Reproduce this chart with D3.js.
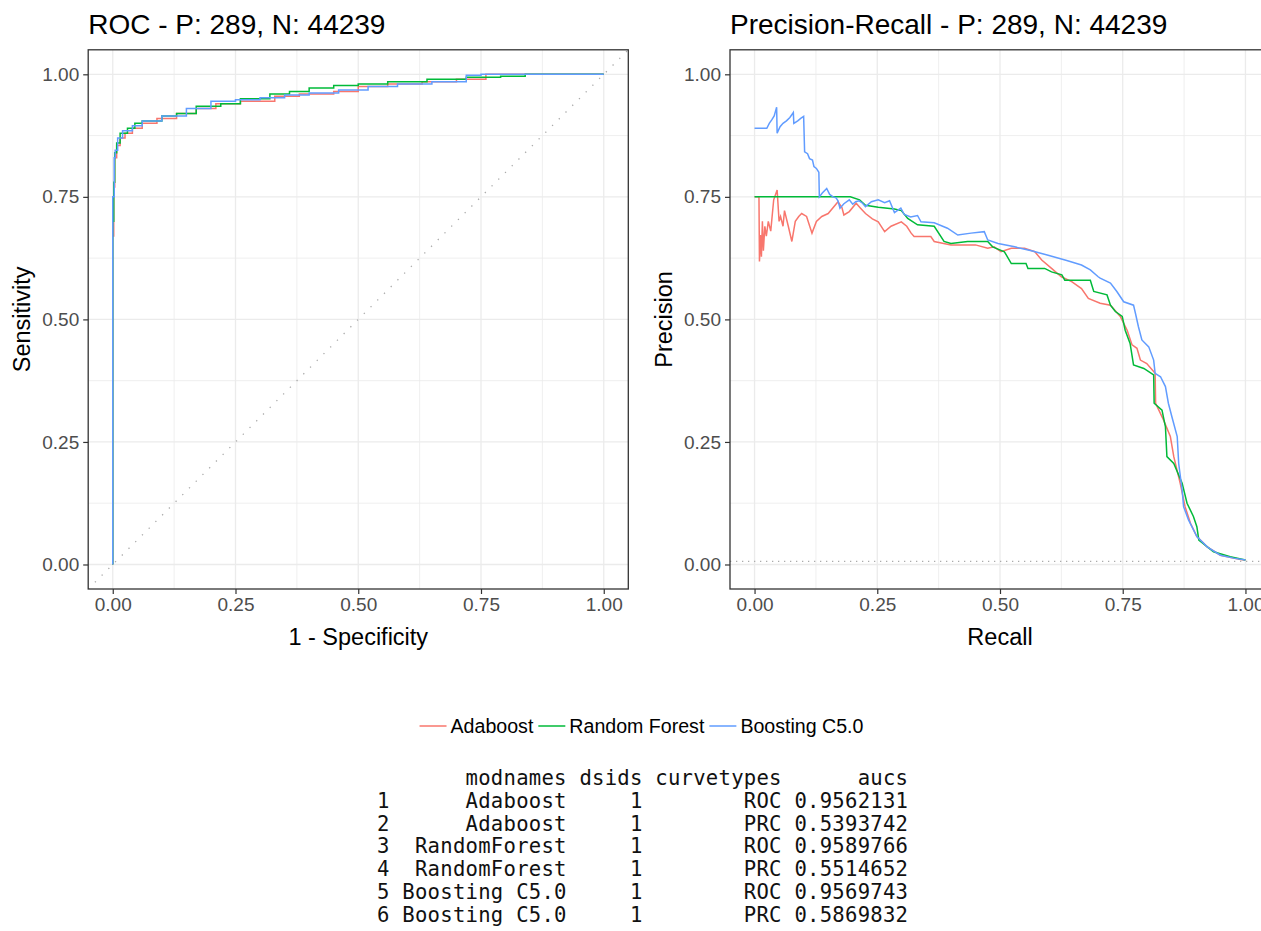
<!DOCTYPE html>
<html>
<head>
<meta charset="utf-8">
<script src="https://cdn.jsdelivr.net/npm/d3@7"></script>
<style>
    body { margin: 0; background: #fff; }
    svg text { font-family: "Liberation Sans", Arial, sans-serif; }
    .table-text { font-family: "DejaVu Sans Mono", monospace; white-space: pre; }
</style>
</head>
<body>
<div id="chart"></div>
<script>

// counts shown in the titles
var posCount = 289;
var negCount = 44239;

var modelNames = ["Adaboost", "Random Forest", "Boosting C5.0"];
var modelColors = ["#F8766D", "#00BA38", "#619CFF"];

var tickValues = [0, 0.25, 0.5, 0.75, 1];
var minorTicks = [0.125, 0.375, 0.625, 0.875];

// ROC curves: [1 - specificity, sensitivity]
var rocAdaboost = [[0,0],[0.002,0.67],[0.004,0.77],[0.008,0.83],[0.015,0.855],[0.025,0.87],[0.04,0.88],[0.06,0.89],
    [0.09,0.9],[0.13,0.91],[0.17,0.92],[0.21,0.93],[0.26,0.94],[0.33,0.945],[0.38,0.955],[0.45,0.96],[0.5,0.965],
    [0.56,0.975],[0.63,0.98],[0.7,0.985],[0.76,0.99],[0.83,1.0],[1,1]];
var rocForest = [[0,0],[0.002,0.7],[0.004,0.78],[0.008,0.84],[0.015,0.86],[0.03,0.88],[0.045,0.89],[0.06,0.9],
    [0.1,0.905],[0.13,0.915],[0.17,0.92],[0.22,0.935],[0.26,0.94],[0.32,0.95],[0.36,0.96],[0.4,0.965],[0.45,0.972],
    [0.5,0.977],[0.56,0.98],[0.64,0.985],[0.72,0.99],[0.79,0.994],[0.84,0.996],[0.877,1.0],[1,1]];
var rocC50 = [[0,0],[0.003,0.75],[0.005,0.83],[0.01,0.845],[0.02,0.87],[0.04,0.885],[0.06,0.895],[0.1,0.905],
    [0.15,0.915],[0.2,0.93],[0.25,0.945],[0.3,0.948],[0.35,0.952],[0.4,0.958],[0.46,0.962],[0.52,0.968],[0.58,0.975],
    [0.65,0.98],[0.72,0.985],[0.75,0.998],[0.806,1.0],[1,1]];

// Precision-recall curves: [recall, precision]
var prcAdaboost = [[0,0.75],[0.009,0.75],[0.010,0.618],[0.012,0.672],[0.014,0.628],[0.016,0.700],[0.018,0.640],
    [0.021,0.690],[0.024,0.670],[0.028,0.700],[0.033,0.680],[0.039,0.744],[0.046,0.764],[0.050,0.700],[0.053,0.710],
    [0.058,0.690],[0.061,0.722],[0.069,0.689],[0.076,0.659],[0.083,0.700],[0.090,0.710],[0.096,0.716],[0.106,0.710],
    [0.117,0.676],[0.126,0.700],[0.137,0.710],[0.150,0.716],[0.170,0.740],[0.178,0.728],[0.182,0.713],[0.193,0.720],
    [0.207,0.737],[0.215,0.728],[0.226,0.716],[0.240,0.705],[0.252,0.699],[0.265,0.679],[0.278,0.690],[0.299,0.699],
    [0.310,0.690],[0.319,0.676],[0.325,0.669],[0.359,0.669],[0.366,0.659],[0.400,0.652],[0.450,0.652],[0.475,0.645],
    [0.488,0.648],[0.502,0.638],[0.523,0.645],[0.550,0.645],[0.571,0.638],[0.585,0.621],[0.605,0.604],[0.625,0.587],
    [0.646,0.577],[0.666,0.563],[0.680,0.543],[0.704,0.533],[0.725,0.529],[0.745,0.506],[0.759,0.478],[0.769,0.448],
    [0.779,0.441],[0.786,0.417],[0.799,0.410],[0.816,0.390],[0.817,0.329],[0.833,0.295],[0.847,0.261],[0.854,0.220],
    [0.867,0.166],[0.877,0.118],[0.888,0.084],[0.901,0.057],[0.922,0.036],[0.949,0.019],[0.990,0.010],[1.0,0.009]];
var prcForest = [[0,0.75],[0.195,0.75],[0.214,0.744],[0.226,0.733],[0.252,0.729],[0.285,0.725],[0.299,0.722],
    [0.312,0.706],[0.332,0.693],[0.366,0.690],[0.386,0.659],[0.400,0.655],[0.434,0.659],[0.475,0.659],[0.485,0.648],
    [0.509,0.638],[0.523,0.614],[0.553,0.614],[0.557,0.604],[0.591,0.604],[0.605,0.597],[0.626,0.591],[0.632,0.580],
    [0.684,0.580],[0.691,0.557],[0.718,0.550],[0.725,0.529],[0.735,0.516],[0.749,0.506],[0.755,0.478],[0.765,0.451],
    [0.772,0.407],[0.793,0.400],[0.813,0.387],[0.814,0.329],[0.830,0.315],[0.837,0.281],[0.840,0.220],[0.854,0.206],
    [0.871,0.166],[0.881,0.125],[0.894,0.098],[0.901,0.077],[0.905,0.050],[0.935,0.026],[0.969,0.016],[1.0,0.009]];
var prcC50 = [[0,0.890],[0.025,0.890],[0.030,0.900],[0.035,0.907],[0.040,0.915],[0.045,0.933],[0.046,0.880],
    [0.052,0.893],[0.058,0.900],[0.065,0.905],[0.072,0.912],[0.079,0.922],[0.080,0.900],[0.088,0.905],[0.094,0.910],
    [0.100,0.914],[0.102,0.842],[0.108,0.838],[0.112,0.828],[0.118,0.825],[0.121,0.812],[0.126,0.808],[0.131,0.800],
    [0.132,0.750],[0.138,0.758],[0.147,0.767],[0.153,0.755],[0.160,0.750],[0.166,0.748],[0.170,0.742],[0.174,0.727],
    [0.182,0.736],[0.193,0.744],[0.200,0.735],[0.206,0.740],[0.213,0.742],[0.220,0.737],[0.226,0.730],[0.238,0.740],
    [0.252,0.744],[0.265,0.738],[0.275,0.742],[0.285,0.718],[0.298,0.727],[0.305,0.714],[0.318,0.709],[0.332,0.712],
    [0.339,0.699],[0.366,0.697],[0.393,0.686],[0.414,0.672],[0.441,0.676],[0.468,0.679],[0.475,0.662],[0.496,0.655],
    [0.530,0.648],[0.564,0.640],[0.598,0.631],[0.636,0.620],[0.666,0.611],[0.684,0.601],[0.700,0.587],[0.704,0.584],
    [0.725,0.574],[0.738,0.557],[0.752,0.536],[0.772,0.529],[0.776,0.512],[0.782,0.485],[0.789,0.458],[0.803,0.444],
    [0.813,0.417],[0.816,0.390],[0.827,0.383],[0.837,0.363],[0.843,0.329],[0.850,0.302],[0.861,0.261],[0.864,0.206],
    [0.871,0.152],[0.874,0.118],[0.884,0.091],[0.901,0.057],[0.922,0.036],[0.949,0.019],[0.976,0.013],[1.0,0.009]];

// AUC table printed below the plots
var tableModnames = ["Adaboost", "Adaboost", "RandomForest", "RandomForest", "Boosting C5.0", "Boosting C5.0"];
var tableDsids = [1, 1, 1, 1, 1, 1];
var tableCurvetypes = ["ROC", "PRC", "ROC", "PRC", "ROC", "PRC"];
var tableAucs = ["0.9562131", "0.5393742", "0.9589766", "0.5514652", "0.9569743", "0.5869832"];


/*
 *  CurvePanel - one ggplot-like panel with three curves
 */

CurvePanel = function(_svg, _box, _title, _xLabel, _yLabel, _curves, _stepped) {
    this.svg = _svg;
    this.box = _box;
    this.title = _title;
    this.xLabel = _xLabel;
    this.yLabel = _yLabel;
    this.curves = _curves;
    this.stepped = _stepped;

    this.initVis();
}

CurvePanel.prototype.initVis = function() {
    var vis = this;
    var b = vis.box;

    vis.x = d3.scaleLinear().domain([-0.05, 1.05]).range([b.left, b.right]);
    vis.y = d3.scaleLinear().domain([-0.05, 1.05]).range([b.bottom, b.top]);

    var clipId = "clip" + Math.round(b.left);
    vis.svg.append("clipPath").attr("id", clipId)
        .append("rect")
            .attr("x", b.left).attr("y", b.top)
            .attr("width", b.right - b.left).attr("height", b.bottom - b.top);

    vis.plot = vis.svg.append("g").attr("clip-path", "url(#" + clipId + ")");

    // grid lines
    vis.plot.selectAll(".minor-x").data(minorTicks).enter().append("line")
        .attr("x1", function(d) { return vis.x(d); }).attr("x2", function(d) { return vis.x(d); })
        .attr("y1", b.top).attr("y2", b.bottom)
        .attr("stroke", "#EBEBEB").attr("stroke-width", 0.8);
    vis.plot.selectAll(".minor-y").data(minorTicks).enter().append("line")
        .attr("y1", function(d) { return vis.y(d); }).attr("y2", function(d) { return vis.y(d); })
        .attr("x1", b.left).attr("x2", b.right)
        .attr("stroke", "#EBEBEB").attr("stroke-width", 0.8);
    vis.plot.selectAll(".major-x").data(tickValues).enter().append("line")
        .attr("x1", function(d) { return vis.x(d); }).attr("x2", function(d) { return vis.x(d); })
        .attr("y1", b.top).attr("y2", b.bottom)
        .attr("stroke", "#EBEBEB").attr("stroke-width", 1.3);
    vis.plot.selectAll(".major-y").data(tickValues).enter().append("line")
        .attr("y1", function(d) { return vis.y(d); }).attr("y2", function(d) { return vis.y(d); })
        .attr("x1", b.left).attr("x2", b.right)
        .attr("stroke", "#EBEBEB").attr("stroke-width", 1.3);

    // axes
    var fmt = d3.format(".2f");
    var xAxis = vis.svg.append("g")
        .attr("transform", "translate(0," + b.bottom + ")")
        .call(d3.axisBottom(vis.x).tickValues(tickValues).tickFormat(fmt).tickSize(5).tickPadding(4));
    var yAxis = vis.svg.append("g")
        .attr("transform", "translate(" + b.left + ",0)")
        .call(d3.axisLeft(vis.y).tickValues(tickValues).tickFormat(fmt).tickSize(5).tickPadding(4));

    [xAxis, yAxis].forEach(function(ax) {
        ax.select(".domain").remove();
        ax.selectAll(".tick line").attr("stroke", "#333333").attr("stroke-width", 1.2);
        ax.selectAll(".tick text")
            .attr("fill", "#4D4D4D")
            .style("font-size", "19px")
            .style("font-family", "'Liberation Sans', Arial, sans-serif");
    });

    // titles
    vis.svg.append("text")
        .attr("x", b.left).attr("y", 34)
        .style("font-size", "28px")
        .text(vis.title);

    vis.svg.append("text")
        .attr("x", (b.left + b.right) / 2).attr("y", 645)
        .attr("text-anchor", "middle")
        .style("font-size", "23.5px")
        .text(vis.xLabel);

    vis.svg.append("text")
        .attr("transform", "translate(" + (b.left - 58) + "," + ((b.top + b.bottom) / 2) + ") rotate(-90)")
        .attr("text-anchor", "middle")
        .style("font-size", "23.5px")
        .text(vis.yLabel);

    vis.updateVis();
}

CurvePanel.prototype.updateVis = function() {
    var vis = this;

    // random classifier reference line
    if (vis.stepped) {
        vis.plot.append("line")
            .attr("x1", vis.x(-0.05)).attr("y1", vis.y(-0.05))
            .attr("x2", vis.x(1.05)).attr("y2", vis.y(1.05))
            .attr("stroke", "#ABABAB").attr("stroke-width", 1.3)
            .attr("stroke-dasharray", "1.3,8.2");
    } else {
        var base = posCount / (posCount + negCount);
        vis.plot.append("line")
            .attr("x1", vis.x(-0.05)).attr("y1", vis.y(base))
            .attr("x2", vis.x(1.05)).attr("y2", vis.y(base))
            .attr("stroke", "#ABABAB").attr("stroke-width", 1.3)
            .attr("stroke-dasharray", "1.3,4.7");
    }

    var line = d3.line()
        .x(function(d) { return vis.x(d[0]); })
        .y(function(d) { return vis.y(d[1]); })
        .curve(vis.stepped ? d3.curveStepBefore : d3.curveLinear);

    vis.plot.selectAll(".curve").data(vis.curves).enter().append("path")
        .attr("class", "curve")
        .attr("d", function(d) { return line(d); })
        .attr("fill", "none")
        .attr("stroke", function(d, i) { return modelColors[i]; })
        .attr("stroke-width", 1.5);

    // panel border
    vis.svg.append("rect")
        .attr("x", vis.box.left).attr("y", vis.box.top)
        .attr("width", vis.box.right - vis.box.left).attr("height", vis.box.bottom - vis.box.top)
        .attr("fill", "none").attr("stroke", "#333333").attr("stroke-width", 1.3);
}


var svg = d3.select("#chart").append("svg")
    .attr("width", 1261)
    .attr("height", 931);

svg.append("rect").attr("width", 1261).attr("height", 931).attr("fill", "#fff");

var rocPanel = new CurvePanel(svg, { left: 88.2, right: 628.3, top: 49.8, bottom: 589 },
    "ROC - P: " + posCount + ", N: " + negCount, "1 - Specificity", "Sensitivity",
    [rocAdaboost, rocForest, rocC50], true);

var prcPanel = new CurvePanel(svg, { left: 730, right: 1270, top: 49.8, bottom: 589 },
    "Precision-Recall - P: " + posCount + ", N: " + negCount, "Recall", "Precision",
    [prcAdaboost, prcForest, prcC50], false);


// legend, centred under the two panels
var legend = svg.append("g");
var legendX = 0;
modelNames.forEach(function(name, i) {
    var item = legend.append("g").attr("transform", "translate(" + legendX + ",0)");
    item.append("line")
        .attr("x1", 0).attr("x2", 27).attr("y1", 0).attr("y2", 0)
        .attr("stroke", modelColors[i]).attr("stroke-width", 1.5);
    var t = item.append("text")
        .attr("x", 31).attr("y", 7)
        .style("font-size", "19.6px")
        .text(name);
    legendX += 31 + t.node().getComputedTextLength() + 5;
});
legendX -= 5;
legend.attr("transform", "translate(" + (641.5 - legendX / 2) + ",726)");


// printed data frame
function pad(s, n) { return String(s).padStart(n); }

var tableLines = [pad("", 1) + " " + pad("modnames", 13) + " " + pad("dsids", 5) + " " +
    pad("curvetypes", 10) + " " + pad("aucs", 9)];
tableModnames.forEach(function(m, i) {
    tableLines.push(pad(i + 1, 1) + " " + pad(m, 13) + " " + pad(tableDsids[i], 5) + " " +
        pad(tableCurvetypes[i], 10) + " " + pad(tableAucs[i], 9));
});

svg.selectAll(".table-text").data(tableLines).enter().append("text")
    .attr("class", "table-text")
    .attr("x", 377)
    .attr("y", function(d, i) { return 785 + i * 22.8; })
    .attr("fill", "#111")
    .style("font-size", "20.6px")
    .style("letter-spacing", "0.25px")
    .text(function(d) { return d; });

</script>
</body>
</html>
